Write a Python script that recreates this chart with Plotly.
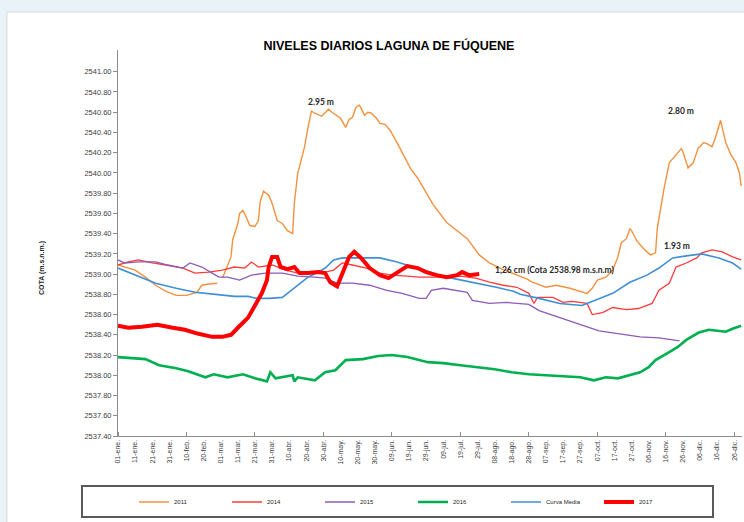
import plotly.graph_objects as go

# ---------------- data (day index 0 = 01-ene) ----------------
tick_days = list(range(0, 361, 10))
tick_labels = ["01-ene.", "11-ene.", "21-ene.", "31-ene.", "10-feb.", "20-feb.", "01-mar.", "11-mar.",
               "21-mar.", "31-mar.", "10-abr.", "20-abr.", "30-abr.", "10-may.", "20-may.", "30-may.",
               "09-jun.", "19-jun.", "29-jun.", "09-jul.", "19-jul.", "29-jul.", "08-ago.", "18-ago.",
               "28-ago.", "07-sep.", "17-sep.", "27-sep.", "07-oct.", "17-oct.", "27-oct.", "06-nov.",
               "16-nov.", "26-nov.", "06-dic.", "16-dic.", "26-dic."]
y_ticks = [round(2537.4 + 0.2 * i, 2) for i in range(19)]

days_2011 = [0, 10, 16, 22, 28, 34, 40, 46, 49, 52,
             58, 60, 61, 66, 67, 70, 71, 73, 75, 77,
             80, 82, 83, 85, 88, 90, 93, 96, 99, 102,
             103, 105, 106, 109, 111, 113, 115, 119, 123, 125,
             130, 133, 135, 137, 139, 141, 142, 144, 146, 148,
             151, 153, 156, 159, 163, 166, 171, 175, 178, 184,
             192, 198, 204, 211, 217, 223, 233, 239, 242, 250,
             256, 264, 274, 277, 280, 285, 289, 292, 294, 297,
             299, 300, 303, 307, 311, 314, 315, 317, 319, 322,
             326, 329, 330, 333, 336, 339, 340, 342, 344, 347,
             349, 352, 355, 358, 361, 363, 364]
cota_2011 = [2539.09, 2539.04, 2538.97, 2538.89, 2538.83, 2538.79, 2538.79, 2538.82, 2538.89, 2538.90,
             2538.91, None, 2538.96, 2539.17, 2539.34, 2539.50, 2539.60, 2539.63, 2539.56, 2539.48,
             2539.47, 2539.53, 2539.71, 2539.82, 2539.78, 2539.70, 2539.53, 2539.50, 2539.43, 2539.40,
             2539.70, 2540.00, 2540.06, 2540.26, 2540.45, 2540.61, 2540.59, 2540.56, 2540.63, 2540.60,
             2540.54, 2540.45, 2540.53, 2540.55, 2540.65, 2540.67, 2540.64, 2540.57, 2540.60, 2540.59,
             2540.54, 2540.49, 2540.48, 2540.42, 2540.30, 2540.20, 2540.04, 2539.95, 2539.86, 2539.69,
             2539.51, 2539.43, 2539.35, 2539.19, 2539.11, 2539.06, 2538.99, 2538.95, 2538.92, 2538.87,
             2538.89, 2538.86, 2538.81, 2538.86, 2538.94, 2538.97, 2539.04, 2539.17, 2539.31, 2539.35,
             2539.45, 2539.43, 2539.33, 2539.25, 2539.19, 2539.21, 2539.45, 2539.65, 2539.85, 2540.10,
             2540.18, 2540.24, 2540.21, 2540.05, 2540.10, 2540.25, 2540.26, 2540.30, 2540.29, 2540.26,
             2540.35, 2540.52, 2540.30, 2540.18, 2540.10, 2540.00, 2539.87]

days_2014 = [0, 6, 12, 20, 28, 38, 45, 53, 61, 68,
             74, 78, 82, 90, 98, 105, 113, 121,
             126, 131, 137, 145, 153, 160, 169, 176, 184, 192,
             200, 209, 217, 225, 233,
             240, 243, 245, 254, 260, 265, 274, 277, 283, 289, 297, 304, 312, 316, 322, 326,
             332, 338, 341, 347, 353, 359, 364]
cota_2014 = [2539.09, 2539.12, 2539.14, 2539.11, 2539.09, 2539.06, 2539.01, 2539.02, 2539.04, 2539.07,
             2539.06, 2539.12, 2539.07, 2539.09, 2539.04, 2539.01, 2539.02, 2539.02,
             2539.04, 2539.11, 2539.09, 2539.06, 2539.01, 2538.99, 2538.98, 2538.97, 2538.97, 2538.97,
             2538.98, 2538.96, 2538.92, 2538.89, 2538.87,
             2538.81, 2538.71, 2538.77, 2538.77, 2538.72, 2538.73, 2538.71, 2538.60, 2538.62, 2538.67,
             2538.65, 2538.66, 2538.71, 2538.84, 2538.91, 2539.07,
             2539.11, 2539.16, 2539.21, 2539.24, 2539.22, 2539.17, 2539.14]

days_2015 = [0, 4, 12, 22, 29, 38, 42, 49, 55, 59,
             64, 71, 78, 86, 96, 105, 115, 121, 128, 137,
             147, 157, 166, 176, 180, 183, 190, 196, 204, 207,
             217, 227, 240, 246, 258, 270, 281, 293, 305, 316,
             328]
cota_2015 = [2539.14, 2539.11, 2539.12, 2539.12, 2539.09, 2539.06, 2539.11, 2539.07, 2539.01, 2538.97,
             2538.97, 2538.94, 2538.99, 2539.01, 2539.01, 2538.98, 2538.97, 2538.96, 2538.91, 2538.91,
             2538.89, 2538.84, 2538.81, 2538.76, 2538.76, 2538.84, 2538.86, 2538.84, 2538.82, 2538.74,
             2538.71, 2538.72, 2538.70, 2538.64, 2538.57, 2538.50, 2538.44, 2538.41, 2538.38, 2538.37,
             2538.34]

days_2016 = [0, 6, 16, 24, 34, 41, 51, 56, 64, 73,
             80, 87, 89, 92, 98, 102, 103, 105, 115, 121,
             127, 133, 143, 152, 160, 169, 181, 190, 200, 210,
             220, 230, 240, 250, 260, 270, 278, 285, 292, 298,
             305, 310, 314, 322, 327, 332, 339, 345, 350, 355,
             359, 364]
cota_2016 = [2538.18, 2538.17, 2538.16, 2538.10, 2538.07, 2538.04, 2537.98, 2538.01, 2537.98, 2538.01,
             2537.97, 2537.94, 2538.03, 2537.97, 2537.99, 2538.00, 2537.94, 2537.98, 2537.95, 2538.03,
             2538.05, 2538.15, 2538.16, 2538.19, 2538.20, 2538.18, 2538.13, 2538.12, 2538.10, 2538.08,
             2538.06, 2538.03, 2538.01, 2538.00, 2537.99, 2537.98, 2537.95, 2537.98, 2537.97, 2538.00,
             2538.03, 2538.08, 2538.15, 2538.23, 2538.28, 2538.35, 2538.42, 2538.45, 2538.44, 2538.43,
             2538.46, 2538.49]

days_media = [0, 10, 22, 34, 45, 57, 68, 76, 81, 88,
              96, 99, 105, 111, 117, 121, 126, 131, 141, 153,
              163, 172, 182, 192, 201, 211, 221, 231, 235, 246,
              258, 271, 279, 289, 299, 309, 316, 324, 332, 341,
              351, 359, 364]
cota_media = [2539.06, 2538.99, 2538.91, 2538.86, 2538.82, 2538.80, 2538.78, 2538.78, 2538.76, 2538.76,
              2538.77, 2538.81, 2538.89, 2538.97, 2539.02, 2539.06, 2539.14, 2539.16, 2539.16, 2539.16,
              2539.12, 2539.07, 2539.02, 2538.97, 2538.94, 2538.90, 2538.87, 2538.83, 2538.80, 2538.76,
              2538.71, 2538.69, 2538.74, 2538.81, 2538.92, 2538.99, 2539.06, 2539.16, 2539.18, 2539.20,
              2539.16, 2539.11, 2539.05]

days_2017 = [0, 6, 14, 23, 32, 39, 47, 55, 61, 66,
             70, 76, 80, 84, 87, 88, 90, 93, 95, 99,
             103, 106, 111, 117, 121, 124, 128, 131, 135, 138,
             142, 147, 153, 158, 163, 169, 175, 180, 186, 192,
             198, 201, 205, 211]
cota_2017 = [2538.49, 2538.47, 2538.48, 2538.50, 2538.47, 2538.45, 2538.41, 2538.38, 2538.38, 2538.40,
             2538.47, 2538.57, 2538.69, 2538.81, 2538.94, 2539.07, 2539.17, 2539.17, 2539.07, 2539.05,
             2539.07, 2539.01, 2539.01, 2539.02, 2539.01, 2538.92, 2538.88, 2539.01, 2539.17, 2539.22,
             2539.16, 2539.06, 2538.99, 2538.96, 2539.01, 2539.08, 2539.06, 2539.02, 2538.99, 2538.97,
             2538.99, 2539.02, 2538.99, 2539.00]

series = [
    ("2011", days_2011, cota_2011, "#F4913F", 1.4),
    ("2014", days_2014, cota_2014, "#FF3B3B", 1.3),
    ("2015", days_2015, cota_2015, "#8B5CB8", 1.3),
    ("2016", days_2016, cota_2016, "#00B050", 2.6),
    ("Curva Media", days_media, cota_media, "#3F8FD6", 1.6),
    ("2017", days_2017, cota_2017, "#FF0000", 4.0),
]
for name, d, c, _, _ in series:
    if len(d) != len(c):
        raise ValueError(f"length mismatch {name}: {len(d)} vs {len(c)}")

# ---------------- figure ----------------
W, H = 744, 522
L, R, T, B = 118, 2, 50, 86
pw, ph = W - L - R, H - T - B

def px_x(p):
    return (p - L) / pw

def px_y(p):
    return (H - B - p) / ph

fig = go.Figure()
for name, d, c, col, w in series:
    fig.add_trace(go.Scatter(x=d, y=c, mode="lines", name=name,
                             line=dict(color=col, width=w), connectgaps=False,
                             hoverinfo="skip"))

fig.update_layout(
    width=W, height=H,
    margin=dict(l=L, r=R, t=T, b=B, autoexpand=False),
    paper_bgcolor="#e9f2f6",
    plot_bgcolor="white",
    font=dict(family="Liberation Sans, Arial, sans-serif", color="#404040"),
    title=dict(text="<b>NIVELES DIARIOS LAGUNA DE FÚQUENE</b>",
               x=389 / W, xanchor="center", y=1 - 46 / H, yanchor="middle",
               font=dict(size=12.5, color="#000000", family="Liberation Sans, Arial")),
    showlegend=True,
    legend=dict(orientation="h", x=px_x(134), xanchor="left", y=px_y(502), yanchor="middle",
                font=dict(size=6, color="#262626"), itemwidth=30, entrywidth=48,
                bgcolor="rgba(0,0,0,0)", traceorder="normal"),
    xaxis=dict(range=[0, 364.5], tickmode="array", tickvals=tick_days, ticktext=tick_labels,
               tickangle=-90, tickfont=dict(size=7, color="#404040"), ticks="",
               showline=True, linecolor="#8c8c8c", linewidth=1, showgrid=False, zeroline=False,
               minor=dict(tickmode="array", tickvals=list(range(0, 361, 40)), ticks="inside",
                          ticklen=4, tickcolor="#8c8c8c", showgrid=False)),
    yaxis=dict(range=[2537.4, 2541.215], tickmode="array", tickvals=y_ticks,
               ticktext=[f"{v:.2f}" for v in y_ticks], tickfont=dict(size=7.5, color="#404040"),
               ticks="outside", ticklen=4, tickcolor="#8c8c8c", showline=True, linecolor="#8c8c8c",
               linewidth=1, showgrid=False, zeroline=False),
    shapes=[
        dict(type="rect", xref="paper", yref="paper", x0=px_x(7), x1=px_x(760),
             y0=px_y(540), y1=px_y(12), fillcolor="white", line=dict(color="#d9d9d9", width=1),
             layer="below"),
        dict(type="rect", xref="paper", yref="paper", x0=px_x(82), x1=px_x(713),
             y0=px_y(517), y1=px_y(486), fillcolor="rgba(0,0,0,0)",
             line=dict(color="#595959", width=2)),
    ],
)

ann_font = dict(family="Lato, Open Sans, sans-serif", size=8.5, color="#262626")
fig.add_annotation(x=118.6, y=2540.70, xref="x", yref="y", text="<b>2.95 m</b>",
                   showarrow=False, font=ann_font)
fig.add_annotation(x=328.9, y=2540.61, xref="x", yref="y", text="<b>2.80 m</b>",
                   showarrow=False, font=ann_font)
fig.add_annotation(x=326.5, y=2539.28, xref="x", yref="y", text="<b>1.93 m</b>",
                   showarrow=False, font=ann_font)
fig.add_annotation(x=219, y=2539.04, xref="x", yref="y", xanchor="left",
                   text="<b>1,26 cm (Cota 2538.98 m.s.n.m)</b>", showarrow=False, font=ann_font)
fig.add_annotation(x=px_x(36), y=px_y(268), xref="paper", yref="paper", text="<b>COTA (m.s.n.m.)</b>",
                   textangle=-90, showarrow=False,
                   font=dict(size=7, color="#262626", family="Liberation Sans, Arial"))

fig.write_html("out.html", config={"displayModeBar": False},
               post_script="document.body.style.margin='0';document.body.style.overflow='hidden';")
